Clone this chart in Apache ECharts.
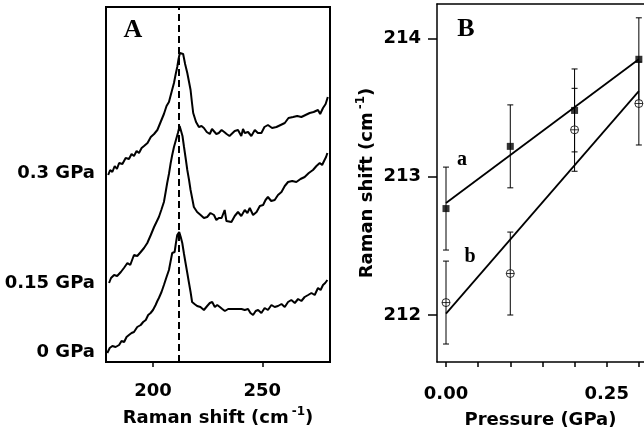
<!DOCTYPE html>
<html>
<head>
<meta charset="utf-8">
<script src="https://cdn.jsdelivr.net/npm/echarts@6/dist/echarts.min.js"></script>
<style>
html,body{margin:0;padding:0;background:#fff;}
#chart{width:644px;height:439px;}
</style>
</head>
<body>
<div id="chart"></div>
<script>
// ---------- Panel A: Raman spectra (x = Raman shift cm-1, y = offset intensity, arb. units) ----------
const spectrum0GPa = [[179.1,9],[180.2,14],[181.4,16],[182.9,15],[184.5,17],[185.6,21],[186.8,20],[187.9,25],[189,27],[190.2,29],[191.3,30],[192.8,35],[194.4,37],[195.5,40],[196.7,42],[197.8,47],[198.9,49],[200,52],[201.2,57],[202,61],[202.7,64],[203.9,70],[205,77],[206.2,85],[207.3,92],[208,100],[208.8,109],[209.9,110],[210.5,119],[211.1,127],[212,130],[212.7,125],[213.4,119],[214.2,108],[214.9,99],[215.7,89],[216.4,80],[217.2,70],[217.9,60],[219,58],[220.2,56],[221.7,55],[223.3,52],[224.8,56],[226,59],[227.1,60],[228.3,55],[229.4,57],[230.6,55],[231.7,53],[232.9,51],[234.4,53],[235.9,53],[238.2,53],[240.5,53],[242,52],[243.5,53],[244.6,49],[245.8,47],[247,51],[248.1,52],[249.6,49],[251.1,54],[252.6,52],[254.2,57],[255.7,55],[257.2,56],[258.8,58],[260.3,55],[261.8,60],[263.3,62],[264.9,59],[266.4,63],[267.9,61],[269.4,65],[271,67],[272.5,69],[274,67],[275.5,74],[276.7,72],[277.8,77],[278.8,79],[279.8,82]];
const spectrum015GPa = [[179.9,79],[180.8,84],[182.2,87],[183.6,86],[185.3,90],[186.7,94],[188.3,99],[189.6,97],[191.3,107],[192.8,106],[194.4,110],[195.9,114],[197.4,119],[199,127],[200.5,135],[201.6,140],[202.7,145],[203.8,152],[205,160],[205.8,170],[206.5,179],[207.3,188],[208.1,199],[208.8,207],[209.6,215],[210.5,222],[211.4,229],[212.2,236],[212.9,235],[213.5,226],[214.2,215],[215,203],[215.7,192],[216.5,182],[217.2,172],[218,163],[218.7,155],[220.2,150],[221.8,147],[223.3,144],[224.8,145],[226.3,149],[227.9,147],[229,142],[230.1,144],[231.4,144],[232.8,152],[233.6,141],[235.9,140],[237.4,146],[238.9,150],[240.4,146],[242,152],[243.2,149],[244.3,154],[245.8,147],[247.4,150],[248.9,156],[250.4,157],[251.5,162],[252.6,165],[254.1,161],[255.7,162],[257.2,167],[258.8,170],[260.3,176],[261.8,180],[263.7,181],[265.6,180],[267.5,183],[269.4,185],[271.3,189],[273.2,192],[274.8,196],[276.3,199],[277.4,197],[278.5,202],[279.2,205],[279.8,209]];
const spectrum03GPa = [[179.5,187],[180.4,192],[181.4,190],[182.5,196],[183.5,193],[184.5,199],[186,198],[187.5,204],[189,203],[190.2,208],[191.3,206],[192.5,211],[193.6,209],[194.8,214],[195.9,216],[197.5,219],[199,225],[200.5,228],[202,232],[203.5,240],[205,248],[206.2,256],[207.3,260],[208.5,270],[209.6,279],[210.4,288],[211.1,295],[211.7,303],[212.3,309],[213,307],[213.8,308],[214.7,298],[215.7,289],[216.5,280],[217.2,272],[217.8,260],[218.4,249],[219.7,240],[221,235],[222.2,236],[223.3,234],[224.6,230],[226,228],[227,233],[227.9,233],[229,228],[230.1,229],[231.4,232],[232.6,230],[233.7,228],[235,226],[235.9,227],[237.4,231],[238.9,232],[240.4,226],[241.2,233],[242,229],[243.5,230],[245,226],[246.6,232],[248,229],[249.6,229],[251,235],[252.6,237],[254.5,234],[256.5,235],[258.4,237],[260.3,239],[262,244],[264.1,245],[266,246],[267.9,245],[269.8,247],[271.7,249],[273.5,250],[275.5,252],[276.5,248],[277.8,254],[279,258],[280,265]];
const peakPosition = 212;                       // dashed reference line (cm-1)
const spectrumLabels = ['0 GPa', '0.15 GPa', '0.3 GPa'];
const spectrumLabelLevels = [10, 79, 189];      // baseline level of each trace (arb. units)
const ramanTicks = [200, 250];

// ---------- Panel B: Raman shift vs pressure ----------
const pressures = [0, 0.1, 0.2, 0.3];
const shiftA = [212.77, 213.22, 213.48, 213.85];
const errA = [0.3, 0.3, 0.3, 0.3];
const shiftB = [212.09, 212.30, 213.34, 213.53];
const errB = [0.3, 0.3, 0.3, 0.3];
const fitPressures = [0, 0.3];
const fitA = [212.81, 213.85];
const fitB = [212.01, 213.62];
const pressureTicks = [0, 0.05, 0.1, 0.15, 0.2, 0.25, 0.3];
const pressureLabels = [0, 0.25];
const shiftTicks = [212, 213, 214];

const FONT = 'DejaVu Sans';
const SERIF = 'Liberation Serif';
const boldLabel = {fontFamily: FONT, fontWeight: 'bold', fontSize: 18, color: '#000'};
const supRich = {sup: {fontFamily: FONT, fontWeight: 'bold', fontSize: 12, padding: [0, 0, 12, 3]}};

function errorBarSeries(xs, ys, es, xIdx, yIdx) {
  return {
    type: 'custom', xAxisIndex: xIdx, yAxisIndex: yIdx, z: 3, clip: false,
    data: xs.map((x, i) => [x, ys[i], es[i]]),
    renderItem: function (params, api) {
      const x = api.value(0), y = api.value(1), e = api.value(2);
      const t = api.coord([x, y + e]), b = api.coord([x, y - e]);
      const w = 3;
      const st = {stroke: '#000', lineWidth: 1};
      return {type: 'group', children: [
        {type: 'line', shape: {x1: t[0], y1: t[1], x2: b[0], y2: b[1]}, style: st},
        {type: 'line', shape: {x1: t[0]-w, y1: t[1], x2: t[0]+w, y2: t[1]}, style: st},
        {type: 'line', shape: {x1: b[0]-w, y1: b[1], x2: b[0]+w, y2: b[1]}, style: st}
      ]};
    }
  };
}

const chart = echarts.init(document.getElementById('chart'), null, {renderer: 'canvas'});
const circleCross = 'path://M0,-10A10,10 0 1,1 0,10A10,10 0 1,1 0,-10ZM-10,0L10,0M0,-10L0,10';
const frameLine = {show: true, onZero: false, lineStyle: {color: '#000', width: 1.5}};

const option = {
  animation: false,
  backgroundColor: '#fff',
  grid: [
    {left: 106, top: 7, right: 314, bottom: 77, show: true, borderColor: '#000', borderWidth: 2, backgroundColor: 'transparent'},
    {left: 437, top: 4, right: 0, bottom: 77, show: false}
  ],
  xAxis: [
    {
      gridIndex: 0, type: 'value', min: 178.5, max: 281,
      axisLine: {show: false},
      axisTick: {show: true, customValues: ramanTicks, length: 5, lineStyle: {color: '#000', width: 1.5}},
      axisLabel: {show: true, customValues: ramanTicks, margin: 20, ...boldLabel},
      splitLine: {show: false},
      name: 'Raman shift (cm{sup|-1})', nameLocation: 'middle', nameGap: 44,
      nameTextStyle: {...boldLabel, rich: supRich}
    },
    {
      gridIndex: 1, type: 'value', min: -0.014, max: 0.308, position: 'bottom',
      axisLine: frameLine,
      axisTick: {show: true, customValues: pressureTicks, length: 5, lineStyle: {color: '#000', width: 1.5}},
      axisLabel: {show: true, customValues: pressureLabels, margin: 23, formatter: v => v.toFixed(2), ...boldLabel},
      splitLine: {show: false},
      name: 'Pressure (GPa)', nameLocation: 'middle', nameGap: 49,
      nameTextStyle: {...boldLabel}
    },
    {
      gridIndex: 1, type: 'value', min: -0.014, max: 0.308, position: 'top',
      axisLine: frameLine, axisTick: {show: false}, axisLabel: {show: false}, splitLine: {show: false}
    }
  ],
  yAxis: [
    {
      gridIndex: 0, type: 'value', min: 0, max: 355,
      axisLine: {show: false}, axisTick: {show: false}, splitLine: {show: false},
      axisLabel: {show: true, customValues: spectrumLabelLevels, margin: 11,
        formatter: v => spectrumLabels[spectrumLabelLevels.indexOf(v)], ...boldLabel}
    },
    {
      gridIndex: 1, type: 'value', min: 211.66, max: 214.25, position: 'left',
      axisLine: frameLine,
      axisTick: {show: true, customValues: shiftTicks, length: 9, lineStyle: {color: '#000', width: 1.5}},
      axisLabel: {show: true, customValues: shiftTicks, margin: 16, formatter: v => String(v), ...boldLabel},
      splitLine: {show: false},
      name: 'Raman shift (cm{sup|-1})', nameLocation: 'middle', nameGap: 58,
      nameTextStyle: {...boldLabel, rich: supRich}
    }
  ],
  series: [
    {type: 'line', xAxisIndex: 0, yAxisIndex: 0, data: spectrum0GPa, showSymbol: false, lineStyle: {color: '#000', width: 2},
      markLine: {silent: true, symbol: 'none', label: {show: false}, lineStyle: {color: '#000', type: [7, 4], width: 2}, data: [{xAxis: peakPosition}]}},
    {type: 'line', xAxisIndex: 0, yAxisIndex: 0, data: spectrum015GPa, showSymbol: false, lineStyle: {color: '#000', width: 2}},
    {type: 'line', xAxisIndex: 0, yAxisIndex: 0, data: spectrum03GPa, showSymbol: false, lineStyle: {color: '#000', width: 2}},

    errorBarSeries(pressures, shiftA, errA, 1, 1),
    errorBarSeries(pressures, shiftB, errB, 1, 1),
    {type: 'line', xAxisIndex: 1, yAxisIndex: 1, data: fitPressures.map((p, i) => [p, fitA[i]]), showSymbol: false, z: 4, lineStyle: {color: '#000', width: 1.8}},
    {type: 'line', xAxisIndex: 1, yAxisIndex: 1, data: fitPressures.map((p, i) => [p, fitB[i]]), showSymbol: false, z: 4, lineStyle: {color: '#000', width: 1.8}},
    {type: 'scatter', xAxisIndex: 1, yAxisIndex: 1, data: pressures.map((p, i) => [p, shiftA[i]]), symbol: 'rect', symbolSize: 7, z: 5, itemStyle: {color: '#000'}},
    {type: 'scatter', xAxisIndex: 1, yAxisIndex: 1, data: pressures.map((p, i) => [p, shiftB[i]]), symbol: circleCross, symbolSize: 8, z: 5, itemStyle: {color: '#fff', borderColor: '#000', borderWidth: 1}}
  ],
  graphic: [
    {type: 'text', x: 133, y: 30, style: {text: 'A', font: 'bold 26px "' + SERIF + '"', fill: '#000', textAlign: 'center', textVerticalAlign: 'middle'}},
    {type: 'text', x: 466, y: 29, style: {text: 'B', font: 'bold 26px "' + SERIF + '"', fill: '#000', textAlign: 'center', textVerticalAlign: 'middle'}},
    {type: 'text', x: 462, y: 160, style: {text: 'a', font: 'bold 20px "' + SERIF + '"', fill: '#000', textAlign: 'center', textVerticalAlign: 'middle'}},
    {type: 'text', x: 470, y: 257, style: {text: 'b', font: 'bold 20px "' + SERIF + '"', fill: '#000', textAlign: 'center', textVerticalAlign: 'middle'}}
  ]
};
chart.setOption(option);
</script>
</body>
</html>
